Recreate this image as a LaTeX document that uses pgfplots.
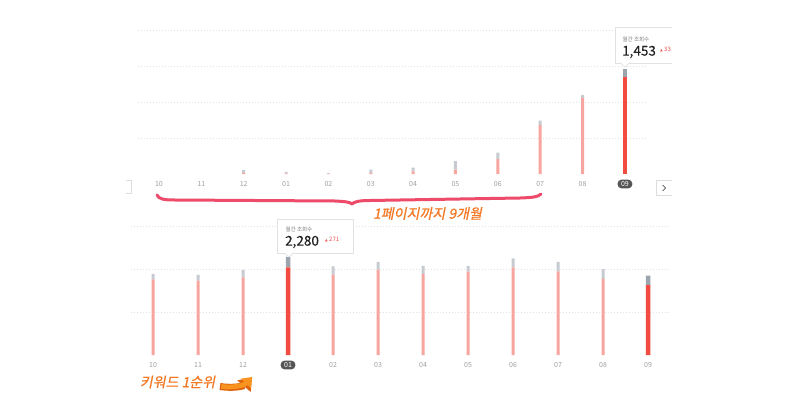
\documentclass[border=0pt]{standalone}
\usepackage{pgfplots}
\pgfplotsset{compat=1.18}
\usepackage{pgfplotstable}
\usepackage{fontspec}
\setmainfont{Noto Sans CJK KR}
\newfontfamily\cjkit[FakeSlant=0.2, FakeBold=0.6]{Noto Sans CJK KR}
\newfontfamily\cjkmed[FakeBold=0.3]{Noto Sans CJK KR}
\newfontfamily\dejavu{DejaVu Sans}
\usetikzlibrary{arrows.meta}

\definecolor{lightred}{HTML}{F7A59F}
\definecolor{darkred}{HTML}{F24B3F}
\definecolor{lightgray}{HTML}{C6CBD1}
\definecolor{darkgray}{HTML}{9CA4AE}
\definecolor{gridc}{HTML}{E2E2E2}
\definecolor{tickc}{HTML}{A0A0A0}
\definecolor{pillc}{HTML}{555555}
\definecolor{tipborder}{HTML}{E2E2E2}
\definecolor{tiplabel}{HTML}{777777}
\definecolor{tipnum}{HTML}{222222}
\definecolor{upred}{HTML}{F0504A}
\definecolor{bracec}{HTML}{EE4A6A}
\definecolor{orangetext}{HTML}{F47721}
\definecolor{arrowfill}{HTML}{F7931E}
\definecolor{arrowedge}{HTML}{E0620F}
\definecolor{btnborder}{HTML}{DDDDDD}

% top chart: lr = light red, lg = light gray, dr = dark red, dg = dark gray
\pgfplotstableread{
x lr   lg  dr   dg
0  0    0   0    0
1  0    0   0    0
2  15   40  0    0
3  10   20  0    0
4  4    8   0    0
5  15   45  0    0
6  35   55  0    0
7  60   120 0    0
8  205  91  0    0
9  680  60  0    0
10 1056 41  0    0
11 0    0   1347 106
}\toptable

\pgfplotstableread{
x lr   lg  dr   dg
0  1761 123 0    0
1  1728 133 0    0
2  1807 170 0    0
3  0    0   2040 240
4  1868 195 0    0
5  1984 179 0    0
6  1884 186 0    0
7  1938 132 0    0
8  2040 209 0    0
9  1947 216 0    0
10 1768 232 0    0
11 0    0   1628 216
}\bottable

\pgfplotsset{
  chartbase/.style={
    scale only axis,
    anchor=south west,
    xmin=-0.5, xmax=11.5, ymin=0,
    ybar stacked,
    axis line style={draw=none},
    major tick style={draw=none},
    yticklabels={},
    ymajorgrids,
    major grid style={gridc, line width=0.7pt, dash pattern=on 1.5pt off 1.5pt},
    xticklabel style={font=\fontsize{7}{8}\selectfont, text=tickc, anchor=center, yshift=-10pt},
    extra x tick style={xticklabel style={fill=pillc, text=white, rounded corners=4pt, inner xsep=3.5pt, inner ysep=1.8pt}},
    clip=false,
  },
}

\begin{document}
\begin{tikzpicture}[x=1pt,y=1pt]
\path[use as bounding box, fill=white] (0pt,0pt) rectangle (800pt,400pt);

% top chart
\begin{axis}[chartbase,
  at={(137.8pt,226pt)}, width=508.3pt, height=144pt,
  ymax=2000, ytick={500,1000,1500,2000},
  xtick={0,...,10},
  xticklabels={10,11,12,01,02,03,04,05,06,07,08},
  extra x ticks={11}, extra x tick labels={09},
]
\addplot[fill=lightred, draw=none, bar width=3pt] table[x=x, y=lr] {\toptable};
\addplot[fill=lightgray, draw=none, bar width=3pt] table[x=x, y=lg] {\toptable};
\addplot[fill=darkred, draw=none, bar width=4.5pt] table[x=x, y=dr] {\toptable};
\addplot[fill=darkgray, draw=none, bar width=4.5pt] table[x=x, y=dg] {\toptable};
\end{axis}

% bottom chart
\begin{axis}[chartbase,
  at={(130.5pt,45pt)}, width=540pt, height=129pt,
  ymax=3000, ytick={1000,2000,3000},
  xtick={0,1,2,4,5,6,7,8,9,10,11},
  xticklabels={10,11,12,02,03,04,05,06,07,08,09},
  extra x ticks={3}, extra x tick labels={01},
]
\addplot[fill=lightred, draw=none, bar width=3pt] table[x=x, y=lr] {\bottable};
\addplot[fill=lightgray, draw=none, bar width=3pt] table[x=x, y=lg] {\bottable};
\addplot[fill=darkred, draw=none, bar width=4.5pt] table[x=x, y=dr] {\bottable};
\addplot[fill=darkgray, draw=none, bar width=4.5pt] table[x=x, y=dg] {\bottable};
\end{axis}

% annotations in image coordinates (y downwards)
\begin{scope}[shift={(0pt,400pt)}, yscale=-1]
  % navigation buttons
  \draw[btnborder, line width=0.7pt] (126,180) -- (131,180) -- (131,193) -- (126,193);
  \begin{scope}
    \clip (0,0) rectangle (672,400);
    \draw[btnborder, line width=0.7pt] (656,180) rectangle (690,195);
    \draw[pillc, line width=0.7pt] (662.5,185) -- (665.5,188) -- (662.5,191);
    % top tooltip
    \draw[tipborder, fill=white, line width=0.7pt] (615,27) rectangle (700,63);
    \fill[white] (620.5,62.4) -- (625,67) -- (629.5,62.4) -- cycle;
    \draw[tipborder, line width=0.7pt] (620.5,63) -- (625,67) -- (629.5,63);
    \node[anchor=west, inner sep=0, text=tiplabel, font=\fontsize{5.5}{6}\selectfont] at (622.5,39) {월간 조회수};
    \node[anchor=west, inner sep=0, text=tipnum, font=\cjkmed\fontsize{13.5}{14}\selectfont] at (622,52) {1,453};
    \node[anchor=west, inner sep=0, text=upred, font=\fontsize{6}{7}\selectfont] at (660,50) {{\dejavu\fontsize{3.5}{4}\selectfont ▲} 33};
  \end{scope}

  % bottom tooltip
  \draw[tipborder, fill=white, line width=0.7pt] (277.5,219.5) rectangle (353,253);
  \fill[white] (284.5,252.4) -- (289,257) -- (293.5,252.4) -- cycle;
  \draw[tipborder, line width=0.7pt] (284.5,253) -- (289,257) -- (293.5,253);
  \node[anchor=west, inner sep=0, text=tiplabel, font=\fontsize{5.5}{6}\selectfont] at (285.5,229) {월간 조회수};
  \node[anchor=west, inner sep=0, text=tipnum, font=\cjkmed\fontsize{13.5}{14}\selectfont] at (285,242) {2,280};
  \node[anchor=west, inner sep=0, text=upred, font=\fontsize{6}{7}\selectfont] at (325,239.5) {{\dejavu\fontsize{3.5}{4}\selectfont ▲} 271};

  % red brace
  \draw[bracec, line width=3pt, line cap=round, line join=round]
    (157,195) .. controls (159,199) and (163,200) .. (175,200)
    -- (335,201) .. controls (345,201.5) and (350,202) .. (352,204)
    .. controls (354,202) and (358,200.5) .. (370,200.5)
    -- (520,198) .. controls (533,197.5) and (538,197) .. (541,194);
  \node[text=orangetext, font=\cjkit\fontsize{14}{16}\selectfont, inner sep=0] at (427.5,213.5) {1페이지까지 9개월};

  % keyword rank annotation
  \node[text=orangetext, font=\cjkit\fontsize{14}{16}\selectfont, inner sep=0] at (177.5,382) {키워드 1순위};
  \draw[arrowedge, line width=7pt, -{Triangle[length=11.5pt, width=17pt]}]
    (220,386.5) .. controls (236,389) and (245,385) .. (251.5,377.5);
  \draw[arrowfill, line width=4.8pt, -{Triangle[length=9pt, width=13.5pt]}]
    (221.3,386.5) .. controls (236,388.2) and (245,384.6) .. (252.3,377);
\end{scope}
\end{tikzpicture}
\end{document}
